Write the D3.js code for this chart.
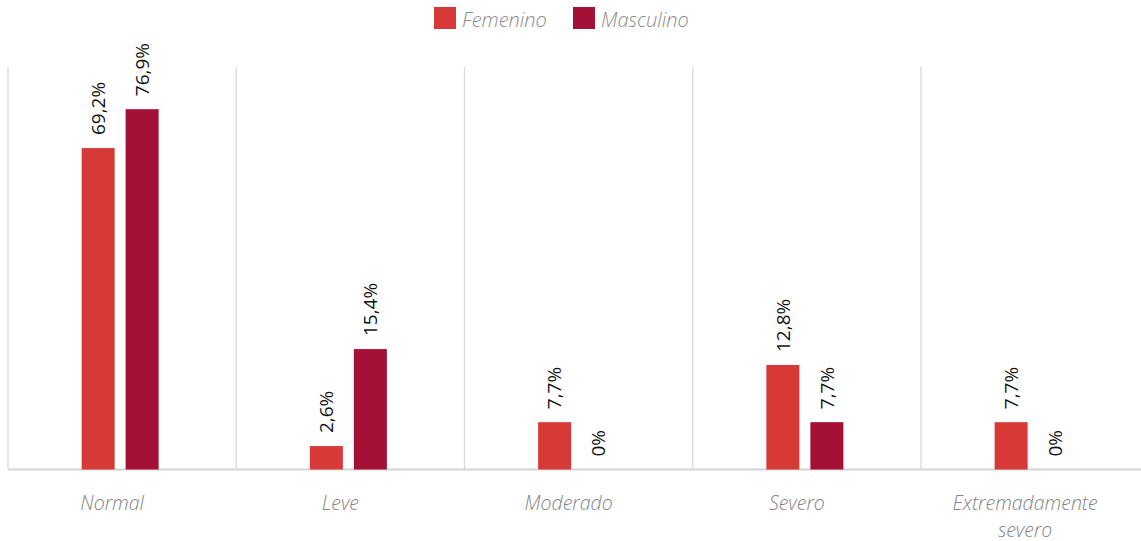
<!DOCTYPE html>
<html>
<head>
<meta charset="utf-8">
<script src="https://cdn.jsdelivr.net/npm/d3@7/dist/d3.min.js"></script>
<style>
  html, body { margin: 0; padding: 0; background: #ffffff; }
  svg { display: block; }
</style>
</head>
<body>
<svg id="chart" width="1141" height="541"></svg>
<script>
// ---- data ----
const categories = ["Normal", "Leve", "Moderado", "Severo", "Extremadamente severo"];
const series = ["Femenino", "Masculino"];
// value labels printed on the chart (percent)
const femenino = [69.2, 2.6, 7.7, 12.8, 7.7];
const masculino = [76.9, 15.4, 0, 7.7, 0];
// bar heights as drawn in the picture (the source bars are not proportional to their labels)
const femeninoBar = [68.6, 5.0, 10.1, 22.3, 10.1];
const masculinoBar = [76.9, 25.7, 0, 10.1, 0];

(function () {
// ---- layout ----
const svg = d3.select("#chart");
const plotLeft = 8, plotRight = 1149.25, plotTop = 67, plotBottom = 469.5;
const colors = { Femenino: "#d73a36", Masculino: "#a51136" };
const fmt = v => (v === 0 ? "0" : d3.format(".1f")(v).replace(".", ",")) + "%";

const x0 = d3.scaleBand().domain(categories).range([plotLeft, plotRight]).padding(0);
const x1 = d3.scaleBand().domain(series).range([0, 77]).paddingInner(0.25).paddingOuter(0);
const y = d3.scaleLinear().domain([0, 85.9]).range([plotBottom, plotTop]);

// vertical separators
const seps = categories.map(c => x0(c)).concat([plotRight]);
svg.append("g").selectAll("line").data(seps).join("line")
  .attr("x1", d => d).attr("x2", d => d)
  .attr("y1", plotTop).attr("y2", plotBottom)
  .attr("stroke", "#d9d9d9").attr("stroke-width", 1.3);

// baseline
svg.append("line").attr("x1", plotLeft).attr("x2", plotRight)
  .attr("y1", plotBottom).attr("y2", plotBottom)
  .attr("stroke", "#d4d4d4").attr("stroke-width", 2);

const rows = categories.map((c, i) => ({
  cat: c,
  items: [
    { s: "Femenino", v: femenino[i], h: femeninoBar[i] },
    { s: "Masculino", v: masculino[i], h: masculinoBar[i] }
  ]
}));

const g = svg.append("g").selectAll("g").data(rows).join("g")
  .attr("transform", d => `translate(${x0(d.cat) + x0.bandwidth() / 2 - 40.5},0)`);

g.selectAll("rect").data(d => d.items.filter(e => e.h > 0)).join("rect")
  .attr("x", d => x1(d.s))
  .attr("width", x1.bandwidth())
  .attr("y", d => y(d.h))
  .attr("height", d => y(0) - y(d.h))
  .attr("fill", d => colors[d.s]);

g.selectAll("text").data(d => d.items).join("text")
  .attr("transform", d => `translate(${x1(d.s) + x1.bandwidth() / 2},${y(d.h) - 13}) rotate(-90)`)
  .attr("dy", "0.36em")
  .attr("text-anchor", "start")
  .attr("font-family", "'Open Sans', 'Noto Sans', sans-serif")
  .attr("font-size", 19)
  .attr("fill", "#111111")
  .text(d => fmt(d.v));

// category labels
const catG = svg.append("g");
categories.forEach(c => {
  const words = c.split(" ");
  const lines = c.length > 12 ? words : [c];
  const cx = x0(c) + x0.bandwidth() / 2 - 10;
  const t = catG.append("text")
    .attr("x", cx)
    .attr("y", 510)
    .attr("text-anchor", "middle")
    .attr("font-family", "'Open Sans', 'Noto Sans', sans-serif")
    .attr("font-style", "italic")
    .attr("font-weight", 300)
    .attr("font-size", 19.5)
    .attr("fill", "#858585");
  lines.forEach((l, k) => {
    t.append("tspan").attr("x", cx).attr("dy", k === 0 ? 0 : 26.5).text(l);
  });
});

// legend
const legend = svg.append("g");
const legX = [434, 573];
series.forEach((s, i) => {
  legend.append("rect").attr("x", legX[i]).attr("y", 7).attr("width", 22).attr("height", 22)
    .attr("fill", colors[s]);
  legend.append("text").attr("x", legX[i] + 28).attr("y", 27)
    .attr("font-family", "'Open Sans', 'Noto Sans', sans-serif")
    .attr("font-style", "italic")
    .attr("font-weight", 300)
    .attr("font-size", 20)
    .attr("fill", "#8c8c8c")
    .text(s);
});
})();
</script>
</body>
</html>
